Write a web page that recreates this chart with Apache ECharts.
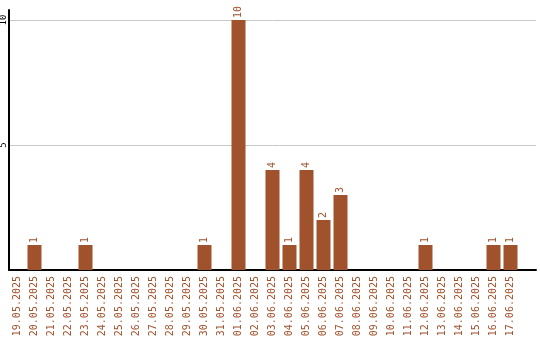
<!DOCTYPE html>
<html><head><meta charset="utf-8">
<script src="https://cdn.jsdelivr.net/npm/echarts@6/dist/echarts.min.js"></script>
<style>html,body{margin:0;padding:0;background:#fff}#c{width:540px;height:340px}</style>
</head><body><div id="c"></div>
<script>
var categories = ['19.05.2025','20.05.2025','21.05.2025','22.05.2025','23.05.2025','24.05.2025','25.05.2025','26.05.2025','27.05.2025','28.05.2025','29.05.2025','30.05.2025','31.05.2025','01.06.2025','02.06.2025','03.06.2025','04.06.2025','05.06.2025','06.06.2025','07.06.2025','08.06.2025','09.06.2025','10.06.2025','11.06.2025','12.06.2025','13.06.2025','14.06.2025','15.06.2025','16.06.2025','17.06.2025'];
var values = [0,1,0,0,1,0,0,0,0,0,0,1,0,10,0,4,1,4,2,3,0,0,0,0,1,0,0,0,1,1];
var yTicks = [5, 10];
var seriesData = values.map(function(v){ return v === 0 ? null : v; });
var color = '#a0522d';
var font = 'DejaVu Sans Mono';
var chart = echarts.init(document.getElementById('c'), null, {renderer:'canvas'});
chart.setOption({
  animation: false,
  grid: {left: 9, right: 4, top: 10, bottom: 70, containLabel: false, outerBoundsMode: 'none'},
  xAxis: {
    type: 'category', data: categories, max: categories.length,
    axisLine: {lineStyle: {color: '#000', width: 2}},
    axisTick: {show: false},
    axisLabel: {interval: 0, rotate: 90, margin: 6, color: color, fontFamily: font, fontSize: 10,
      formatter: function(v){ return v == null ? '' : v; }}
  },
  yAxis: {
    type: 'value', min: 0, max: 10.4, interval: 5,
    axisLine: {show: true, lineStyle: {color: '#000', width: 2}},
    axisTick: {show: false},
    splitLine: {show: true, showMinLine: false, showMaxLine: false, lineStyle: {color: '#c8c8c8', width: 1}},
    axisLabel: {rotate: 90, margin: 1, align: 'center', verticalAlign: 'bottom', color: '#000', fontFamily: font, fontSize: 9,
      showMinLabel: false, showMaxLabel: false,
      formatter: function(v){ return yTicks.indexOf(v) >= 0 ? String(v) : ''; }}
  },
  series: [{
    type: 'bar', data: seriesData, barWidth: 14,
    itemStyle: {color: color},
    label: {show: true, position: 'top', rotate: 90, align: 'left', verticalAlign: 'middle', distance: 2,
      color: color, fontFamily: font, fontSize: 10}
  }]
});
</script></body></html>
